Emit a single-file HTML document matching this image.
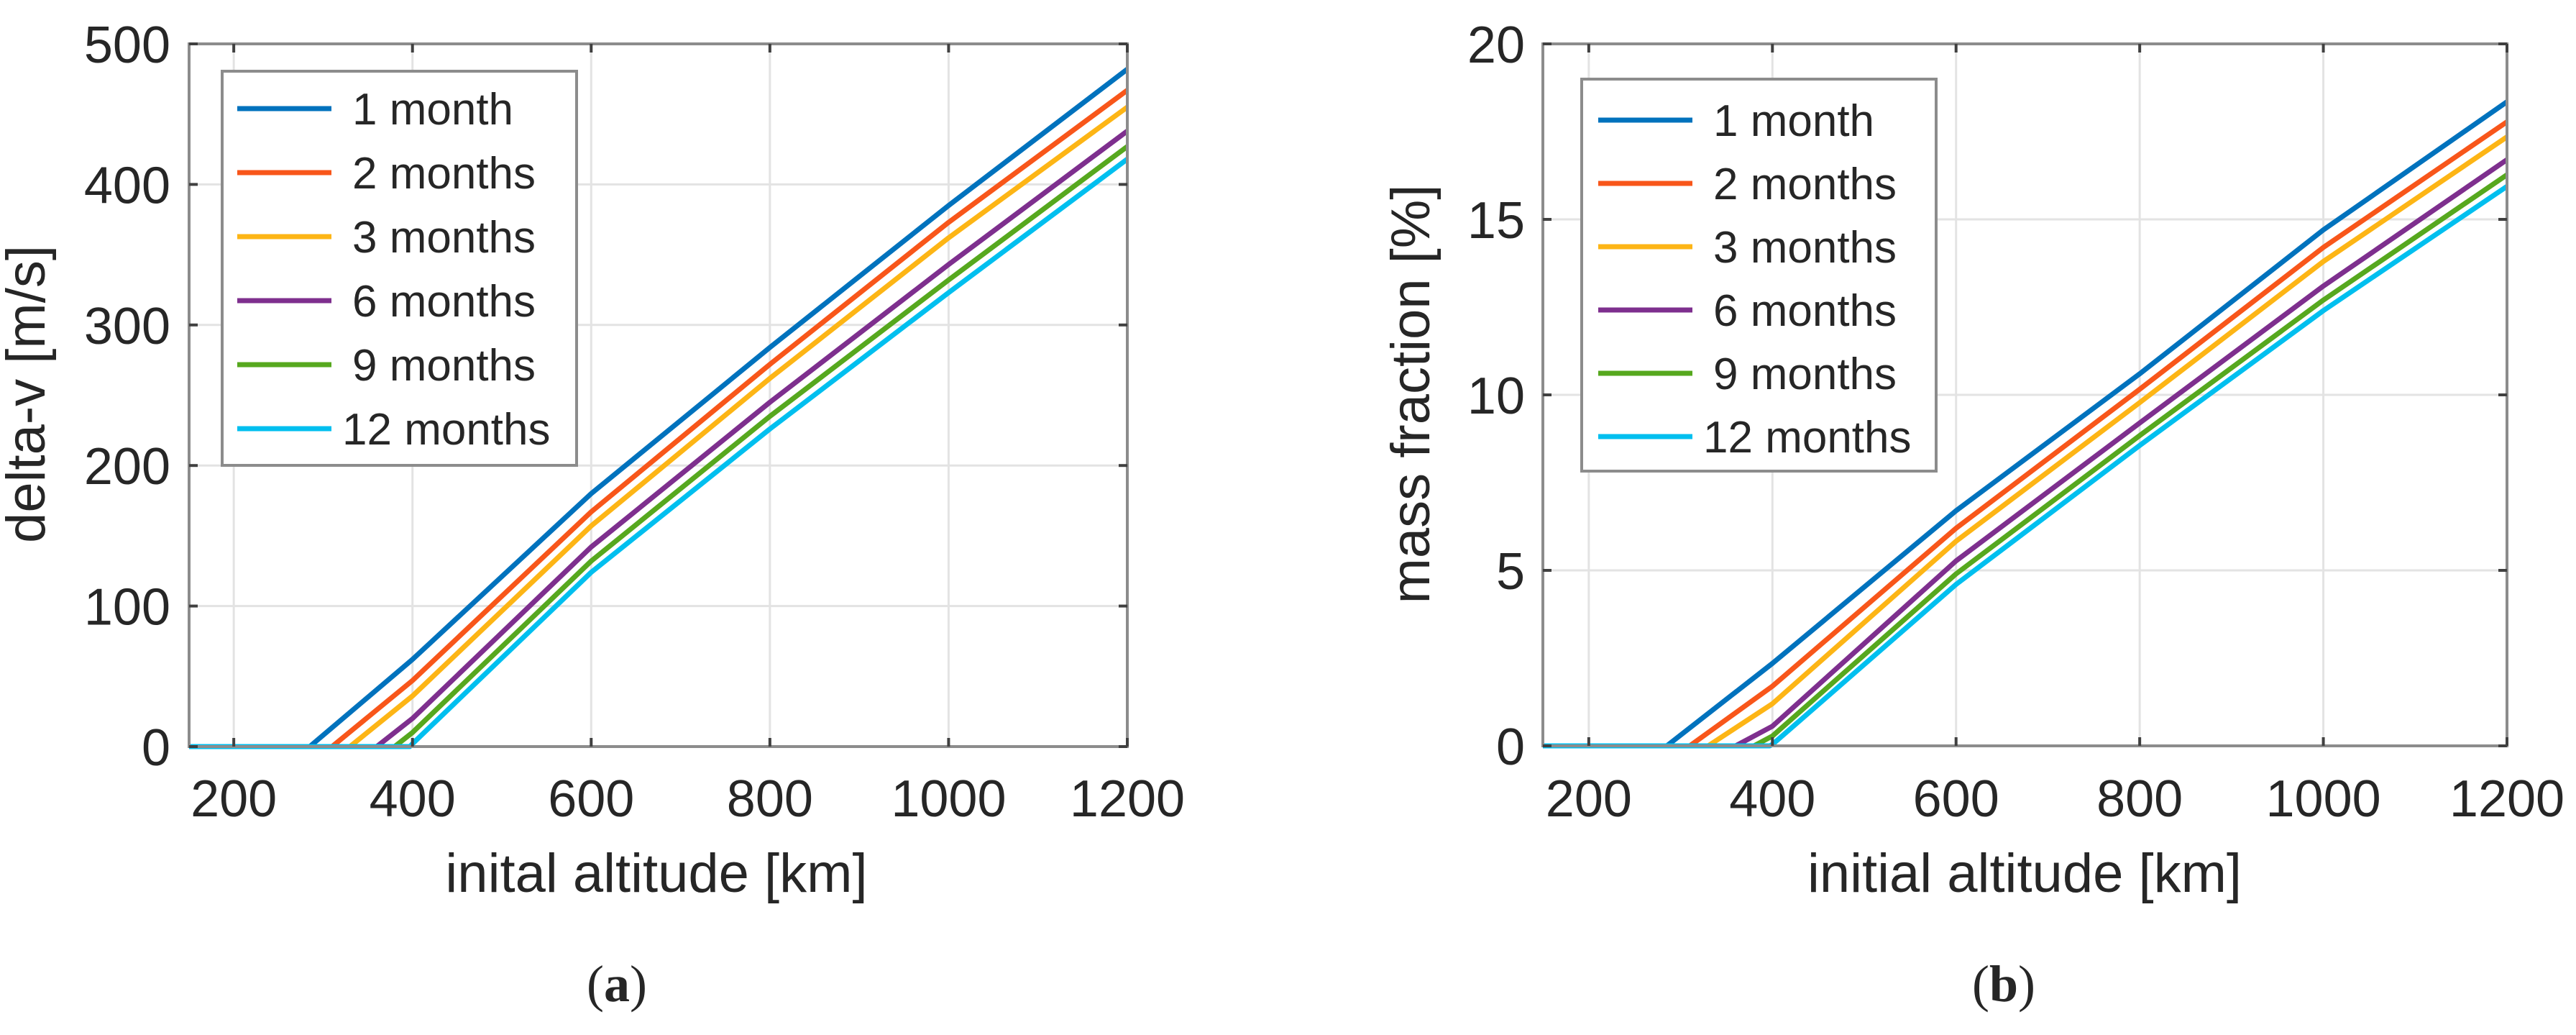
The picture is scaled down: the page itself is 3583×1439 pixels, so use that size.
<!DOCTYPE html>
<html><head><meta charset="utf-8"><style>
html,body{margin:0;padding:0;background:#fff;}
svg{display:block;}
text{font-family:"Liberation Sans",sans-serif;fill:#262626;}
</style></head><body>
<svg id="svg" width="3583" height="1439" viewBox="0 0 3583 1439" xmlns="http://www.w3.org/2000/svg"></svg>
<script>
const seriesNames = ["1 month","2 months","3 months","6 months","9 months","12 months"];
const seriesColors = ["#0072BD","#F8561A","#FDB515","#7E2F8E","#56A81E","#00BFEF"];
const altitudes = [150, 400, 600, 800, 1000, 1200];
const startAlt = [285, 310, 330, 360, 380, 397];
const deltaV1 = [0, 62, 180, 284, 385, 482];
const deltaV2 = [0, 47, 167, 272, 373, 467];
const deltaV3 = [0, 36, 157, 262, 362, 455];
const deltaV6 = [0, 20, 142, 245, 343, 438];
const deltaV9 = [0, 10, 132, 235, 332, 427];
const deltaV12 = [0, 2, 124, 226, 323, 418];
const mass1 = [0, 2.35, 6.7, 10.6, 14.7, 18.35];
const mass2 = [0, 1.7, 6.2, 10.16, 14.2, 17.78];
const mass3 = [0, 1.2, 5.83, 9.78, 13.8, 17.35];
const mass6 = [0, 0.56, 5.27, 9.2, 13.1, 16.7];
const mass9 = [0, 0.28, 4.9, 8.84, 12.7, 16.27];
const mass12 = [0, 0.04, 4.6, 8.56, 12.4, 15.94];
const xTicks = [200, 400, 600, 800, 1000, 1200];
const yTicksA = [0, 100, 200, 300, 400, 500];
const yTicksB = [0, 5, 10, 15, 20];

const NS = "http://www.w3.org/2000/svg";
const svg = document.getElementById("svg");
function mk(tag, attrs, parent){const e=document.createElementNS(NS,tag);for(const k in attrs)e.setAttribute(k,attrs[k]);(parent||svg).appendChild(e);return e;}

function panel(cfg){
  const g = mk("g",{});
  
  
  const L=cfg.L,R=cfg.R,T=61,B=cfg.B;
  const xs=a=>L+(a-150)/(1200-150)*(R-L);
  const ys=v=>B-(v-cfg.ymin)/(cfg.ymax-cfg.ymin)*(B-T);
  // grid
  xTicks.forEach(t=>{const l=mk("line",{x1:xs(t),x2:xs(t),y1:T,y2:B,stroke:"#e3e3e3","stroke-width":3},g);
    });
  cfg.yTicks.forEach(t=>{const l=mk("line",{x1:L,x2:R,y1:ys(t),y2:ys(t),stroke:"#e3e3e3","stroke-width":3},g);
    });
  // series
  cfg.data.forEach((arr,i)=>{
    let pts=[[xs(150),ys(0)],[xs(startAlt[i]),ys(0)]];
    for(let k=1;k<altitudes.length;k++){ if(altitudes[k]>startAlt[i]) pts.push([xs(altitudes[k]),ys(arr[k])]); }
    const p=mk("polyline",{points:pts.map(q=>q.join(",")).join(" "),fill:"none",stroke:seriesColors[i],"stroke-width":7,"stroke-linejoin":"round"},g);
    
    
  });
  // axes box
  const box=mk("rect",{x:L,y:T,width:R-L,height:B-T,fill:"none",stroke:"#8c8c8c","stroke-width":4},g);
  
  // ticks
  xTicks.forEach(t=>{mk("line",{x1:xs(t),x2:xs(t),y1:B,y2:B-12,stroke:"#404040","stroke-width":4},g);mk("line",{x1:xs(t),x2:xs(t),y1:T,y2:T+12,stroke:"#404040","stroke-width":4},g);
    const tx=mk("text",{x:xs(t),y:1135,"font-size":72,"text-anchor":"middle"},g);tx.textContent=t;
    });
  cfg.yTicks.forEach(t=>{mk("line",{x1:L,x2:L+12,y1:ys(t),y2:ys(t),stroke:"#404040","stroke-width":4},g);mk("line",{x1:R,x2:R-12,y1:ys(t),y2:ys(t),stroke:"#404040","stroke-width":4},g);
    const tx=mk("text",{x:cfg.tickRight,y:ys(t)+26,"font-size":72,"text-anchor":"end"},g);tx.textContent=t;
    });
  // legend
  const lg=mk("g",{},g);
  
  mk("rect",{x:cfg.leg[0],y:cfg.leg[1],width:cfg.leg[2]-cfg.leg[0],height:cfg.leg[3]-cfg.leg[1],fill:"#fff",stroke:"#8c8c8c","stroke-width":4},lg);
  seriesNames.forEach((n,i)=>{const yy=cfg.legRow0+i*cfg.legStep;
    const e=mk("g",{},lg);
    mk("line",{x1:cfg.legLine[0],x2:cfg.legLine[1],y1:yy,y2:yy,stroke:seriesColors[i],"stroke-width":7},e);
    const tx=mk("text",{x:cfg.legText-(i==5?14:0),y:yy+22,"font-size":62},e);tx.textContent=n;});
  // labels
  const xl=mk("text",{x:cfg.xlabX,y:1240,"font-size":76,"text-anchor":"middle"},g);xl.textContent=cfg.xlabel;
  
  const yl=mk("text",{x:0,y:0,"font-size":76,"text-anchor":"middle",transform:`translate(${cfg.ylabX+27},548) rotate(-90)`},g);yl.textContent=cfg.ylabel;
  
  const cap=mk("text",{x:cfg.capX,y:1392,"font-size":72,"text-anchor":"middle",style:"font-family:'Liberation Serif',serif"},g);
  cap.innerHTML='(<tspan font-weight="bold">'+cfg.cap+'</tspan>)';
  
}
panel({name:"panel-a-delta-v",L:263,R:1568,B:1038,ymin:0,ymax:500,yTicks:yTicksA,tickRight:237,
  data:[deltaV1,deltaV2,deltaV3,deltaV6,deltaV9,deltaV12],
  leg:[309,99,802,647],legRow0:151,legStep:89,legLine:[330,461],legText:490,
  xlabX:913,xlabel:"inital altitude [km]",ylabX:35,ylabel:"delta-v [m/s]",capX:858,cap:"a"});
panel({name:"panel-b-mass-fraction",L:2146,R:3487,B:1037,ymin:0,ymax:20,yTicks:yTicksB,tickRight:2121,
  data:[mass1,mass2,mass3,mass6,mass9,mass12],
  leg:[2200,110,2693,655],legRow0:167,legStep:88,legLine:[2223,2354],legText:2383,
  xlabX:2816,xlabel:"initial altitude [km]",ylabX:1961,ylabel:"mass fraction [%]",capX:2787,cap:"b"});
</script>
</body></html>
